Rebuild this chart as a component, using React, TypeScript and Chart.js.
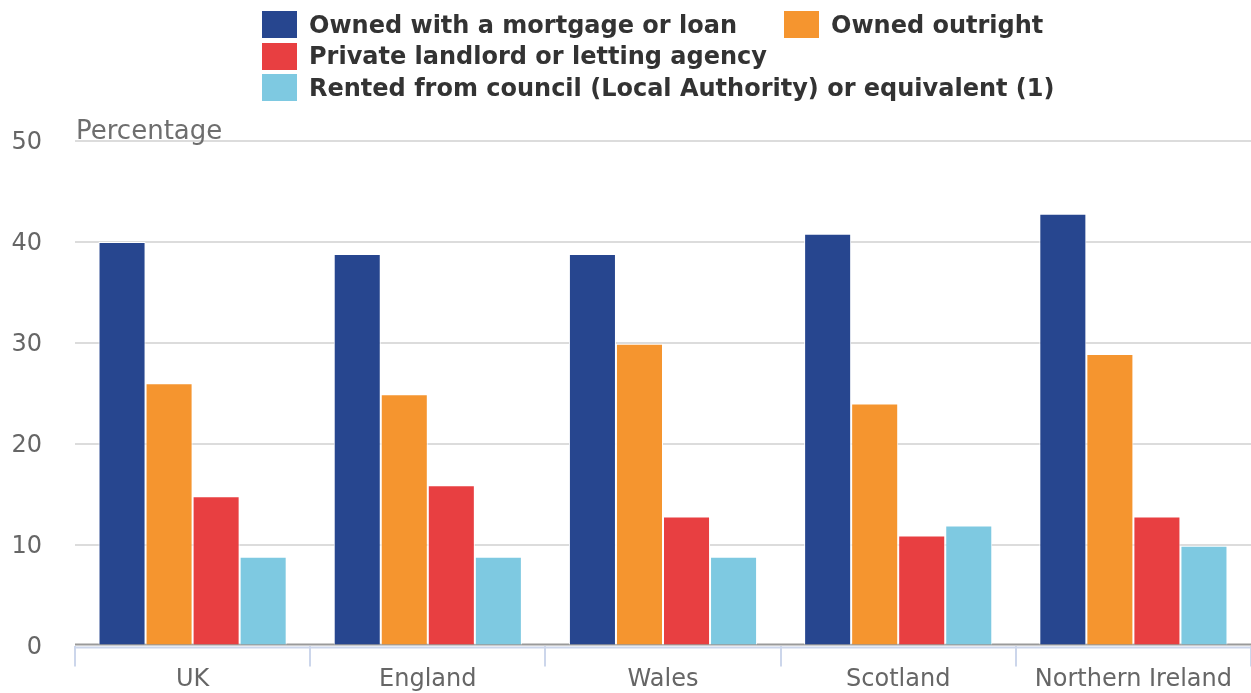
import React, { useEffect, useRef } from 'react';
import { Chart, registerables } from 'chart.js';

Chart.register(...registerables);

const categories = ['UK', 'England', 'Wales', 'Scotland', 'Northern Ireland'];
const seriesNames = [
  'Owned with a mortgage or loan',
  'Owned outright',
  'Private landlord or letting agency',
  'Rented from council (Local Authority) or equivalent (1)',
];
const mortgage = [40.0, 38.8, 38.8, 40.8, 42.8];
const outright = [26.0, 24.9, 29.9, 24.0, 28.9];
const privateLandlord = [14.8, 15.9, 12.8, 10.9, 12.8];
const councilRented = [8.8, 8.8, 8.8, 11.9, 9.9];
const seriesColors = ['#27468f', '#f5952f', '#e83f41', '#7ec9e1'];
const yMin = 0;
const yMax = 50;
const yStep = 10;
const yAxisTitle = 'Percentage';

const FONT = "'DejaVu Sans', sans-serif";

const decorPlugin = {
  id: 'decor',
  beforeDatasetsDraw(chart: any) {
    const { ctx, chartArea, scales } = chart;
    const y0 = scales.y.getPixelForValue(0);
    ctx.save();
    ctx.strokeStyle = '#9a9a9a';
    ctx.lineWidth = 2;
    ctx.beginPath();
    ctx.moveTo(chartArea.left, y0 - 1);
    ctx.lineTo(chartArea.right, y0 - 1);
    ctx.stroke();
    ctx.restore();
  },
  afterDatasetsDraw(chart: any) {
    const { ctx, chartArea, scales } = chart;
    const y0 = scales.y.getPixelForValue(0);
    ctx.save();
    ctx.strokeStyle = '#ccd6eb';
    ctx.lineWidth = 2;
    ctx.beginPath();
    ctx.moveTo(chartArea.left, y0 + 2);
    ctx.lineTo(chartArea.right, y0 + 2);
    ctx.stroke();
    ctx.fillStyle = '#6e6e6e';
    ctx.font = `26px ${FONT}`;
    ctx.textAlign = 'left';
    ctx.textBaseline = 'alphabetic';
    ctx.fillText(yAxisTitle, chartArea.left + 1, chartArea.top - 2);
    ctx.restore();
  },
};

export default function App() {
  const canvasRef = useRef<HTMLCanvasElement | null>(null);

  useEffect(() => {
    const canvas = canvasRef.current;
    if (!canvas) return;
    const values = [mortgage, outright, privateLandlord, councilRented];
    const chart = new Chart(canvas, {
      type: 'bar',
      data: {
        labels: categories,
        datasets: seriesNames.map((name, i) => ({
          label: name,
          data: values[i],
          backgroundColor: seriesColors[i],
          borderColor: '#ffffff',
          borderWidth: 1,
          borderSkipped: 'start',
          categoryPercentage: 0.8,
          barPercentage: 1,
        })),
      },
      options: {
        responsive: false,
        animation: false,
        devicePixelRatio: 1,
        layout: { padding: { top: 141, left: 12, right: 0, bottom: -1 } },
        plugins: {
          legend: { display: false },
          tooltip: { enabled: false },
        },
        scales: {
          x: {
            grid: {
              offset: true,
              drawOnChartArea: false,
              drawTicks: true,
              tickLength: 21,
              color: '#ccd6eb',
              lineWidth: 2,
            },
            border: { display: false },
            ticks: {
              color: '#666666',
              font: { family: FONT, size: 24, lineHeight: 1.1 },
              padding: 0,
              maxRotation: 0,
            },
          },
          y: {
            min: yMin,
            max: yMax,
            afterFit: (scale: any) => {
              scale.width = 63;
            },
            grid: {
              drawTicks: false,
              lineWidth: 2,
              color: (c: any) => (c.tick && c.tick.value === 0 ? 'rgba(0,0,0,0)' : '#dcdcdc'),
            },
            border: { display: false },
            ticks: {
              stepSize: yStep,
              color: '#666666',
              font: { family: FONT, size: 24 },
              padding: 33,
              labelOffset: 2,
            },
          },
        },
      },
      plugins: [decorPlugin],
    });
    return () => chart.destroy();
  }, []);

  return (
    <div style={{ position: 'absolute', left: 0, top: 0, width: 1251, height: 693, background: '#fff' }}>
      <canvas ref={canvasRef} width={1251} height={693} style={{ position: 'absolute', left: 0, top: 0 }} />
      <div
        style={{
          position: 'absolute',
          left: 262,
          top: 9,
          display: 'grid',
          gridTemplateColumns: '522px auto',
          gridAutoRows: '31.5px',
          fontFamily: FONT,
          fontWeight: 'bold',
          fontSize: 24,
          color: '#333333',
          whiteSpace: 'nowrap',
        }}
      >
        {seriesNames.map((name, i) => (
          <div
            key={name}
            style={{
              display: 'flex',
              alignItems: 'center',
              gridColumn: i >= 2 ? '1 / span 2' : undefined,
            }}
          >
            <span
              style={{
                display: 'inline-block',
                width: 35,
                height: 27,
                background: seriesColors[i],
                marginRight: 12,
                flex: 'none',
              }}
            />
            <span>{name}</span>
          </div>
        ))}
      </div>
    </div>
  );
}
